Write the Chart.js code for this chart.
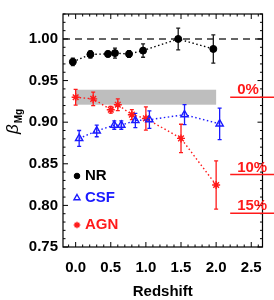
<!DOCTYPE html>
<html><head><meta charset="utf-8">
<script src="https://cdn.jsdelivr.net/npm/chart.js@4"></script>
<style>html,body{margin:0;padding:0;background:#fff}canvas{display:block}</style>
</head><body>
<canvas id="c" width="274" height="300" style="width:274px;height:300px"></canvas>
<script>
// ---- data ----
const xTicks = [0.0, 0.5, 1.0, 1.5, 2.0, 2.5];
const yTicks = [0.75, 0.80, 0.85, 0.90, 0.95, 1.00];

const nrZ  = [-0.04, 0.21, 0.46, 0.56, 0.76, 0.96, 1.46, 1.96];
const nrB  = [0.9725, 0.9815, 0.982, 0.983, 0.982, 0.986, 1.000, 0.988];
const nrE  = [0.0045, 0.0045, 0.0035, 0.006, 0.004, 0.008, 0.013, 0.017];

const csfZ = [0.05, 0.30, 0.55, 0.65, 0.85, 1.05, 1.55, 2.05];
const csfB = [0.8805, 0.8895, 0.8965, 0.8965, 0.902, 0.903, 0.909, 0.898];
const csfE = [0.0095, 0.007, 0.005, 0.005, 0.0085, 0.0105, 0.012, 0.019];

const agnZ = [0.0, 0.25, 0.5, 0.6, 0.8, 1.0, 1.5, 2.0];
const agnB = [0.930, 0.928, 0.915, 0.921, 0.909, 0.9045, 0.8805, 0.8245];
const agnE = [0.0095, 0.008, 0.004, 0.007, 0.006, 0.014, 0.017, 0.029];

const bandZ = [0.0, 2.0];
const bandB = [0.921, 0.939];
const unityB = [1.0];
const refB = [0.930, 0.837, 0.7905];
const refLabels = ['0%', '10%', '15%'];
const refStartZ = 2.2;
const legendNames = ['NR', 'CSF', 'AGN'];

const FONT = "'Liberation Sans', Arial, Helvetica, sans-serif";
const RED = '#ff1a1a', BLUE = '#1a1aff', BLACK = '#000000';

const pts = (xs, ys) => xs.map((x, i) => ({x, y: ys[i]}));

const deco = {
  id: 'deco',
  beforeDatasetsDraw(chart) {
    const {ctx, chartArea: a, scales: {x, y}} = chart;
    ctx.save();
    // grey band
    const bx0 = x.getPixelForValue(bandZ[0]), bx1 = x.getPixelForValue(bandZ[1]);
    const by0 = y.getPixelForValue(bandB[1]), by1 = y.getPixelForValue(bandB[0]);
    ctx.fillStyle = '#bebebe';
    ctx.fillRect(bx0, by0, bx1 - bx0, by1 - by0);
    // unity dashed line
    const uy = y.getPixelForValue(unityB[0]);
    ctx.strokeStyle = '#333';
    ctx.lineWidth = 1.5;
    ctx.setLineDash([7, 5]);
    ctx.beginPath(); ctx.moveTo(a.left, uy); ctx.lineTo(a.right, uy); ctx.stroke();
    ctx.setLineDash([]);
    // error bars
    chart.data.datasets.forEach((ds, di) => {
      const meta = chart.getDatasetMeta(di);
      ctx.strokeStyle = ds.errColor;
      ctx.lineWidth = 1.3;
      meta.data.forEach((pt, i) => {
        const v = ds.data[i].y, e = ds.err[i];
        const y0 = y.getPixelForValue(v - e), y1 = y.getPixelForValue(v + e);
        ctx.beginPath();
        ctx.moveTo(pt.x, y0); ctx.lineTo(pt.x, y1);
        ctx.moveTo(pt.x - 2, y0); ctx.lineTo(pt.x + 2, y0);
        ctx.moveTo(pt.x - 2, y1); ctx.lineTo(pt.x + 2, y1);
        ctx.stroke();
      });
    });
    ctx.restore();
  },
  afterDraw(chart) {
    const {ctx, chartArea: a, scales: {x, y}} = chart;
    ctx.save();
    // frame
    ctx.strokeStyle = '#000';
    ctx.lineWidth = 1.2;
    ctx.strokeRect(a.left, a.top, a.right - a.left, a.bottom - a.top);
    // ticks
    ctx.lineWidth = 1;
    ctx.beginPath();
    for (let k = -2; k <= 27; k++) {
      const v = k / 10;
      if (v < x.min || v > x.max) continue;
      const px = x.getPixelForValue(v);
      const L = (k % 5 === 0) ? 5 : 2.5;
      ctx.moveTo(px, a.bottom); ctx.lineTo(px, a.bottom - L);
      ctx.moveTo(px, a.top); ctx.lineTo(px, a.top + L);
    }
    for (let k = 75; k <= 103; k++) {
      const v = k / 100;
      if (v < y.min - 1e-9 || v > y.max + 1e-9) continue;
      const py = y.getPixelForValue(v);
      const L = (k % 5 === 0) ? 5 : 2.5;
      ctx.moveTo(a.left, py); ctx.lineTo(a.left + L, py);
      ctx.moveTo(a.right, py); ctx.lineTo(a.right - L, py);
    }
    ctx.stroke();
    // reference percentage lines
    ctx.strokeStyle = RED;
    ctx.fillStyle = RED;
    ctx.lineWidth = 1.5;
    ctx.font = 'bold 15px ' + FONT;
    ctx.textAlign = 'left';
    ctx.textBaseline = 'alphabetic';
    const rx0 = x.getPixelForValue(refStartZ);
    refB.forEach((b, i) => {
      const py = y.getPixelForValue(b);
      ctx.beginPath(); ctx.moveTo(rx0, py); ctx.lineTo(chart.width + 2, py); ctx.stroke();
      ctx.fillText(refLabels[i], rx0 + 7, py - 3);
    });
    // legend markers
    const lx = a.left + 14, ly = [176, 198, 225];
    chart.data.datasets.forEach((d, i) => {
      ctx.fillStyle = d.pointBackgroundColor;
      ctx.strokeStyle = d.pointBorderColor;
      ctx.lineWidth = d.pointBorderWidth;
      Chart.helpers.drawPoint(ctx, {
        pointStyle: d.pointStyle, radius: d.legendRadius, rotation: 0,
        borderWidth: d.pointBorderWidth
      }, lx, ly[i]);
    });
    // legend text
    const colors = [BLACK, BLUE, RED];
    ctx.font = 'bold 15px ' + FONT;
    ctx.textAlign = 'left';
    ctx.textBaseline = 'middle';
    legendNames.forEach((n, i) => {
      ctx.fillStyle = colors[i];
      ctx.fillText(n, lx + 8, ly[i]);
    });
    // axis titles
    ctx.fillStyle = '#000';
    ctx.textBaseline = 'alphabetic';
    ctx.textAlign = 'center';
    ctx.font = 'bold 15px ' + FONT;
    ctx.fillText('Redshift', (a.left + a.right) / 2, 296);
    ctx.save();
    ctx.translate(18, 122);
    ctx.rotate(-Math.PI / 2);
    ctx.textAlign = 'left';
    ctx.font = 'italic 17px ' + FONT;
    const wb = ctx.measureText('β').width;
    ctx.font = 'bold 10px ' + FONT;
    const wm = ctx.measureText('Mg').width;
    const start = -(wb + wm) / 2;
    ctx.font = 'italic 17px ' + FONT;
    ctx.fillText('β', start, 0);
    ctx.font = 'bold 10px ' + FONT;
    ctx.fillText('Mg', start + wb + 1, 4);
    ctx.restore();
    ctx.restore();
  }
};

new Chart(document.getElementById('c'), {
  type: 'scatter',
  data: {
    datasets: [
      {label: 'NR', data: pts(nrZ, nrB), err: nrE, errColor: '#1a1a1a',
       showLine: true, borderColor: BLACK, borderWidth: 1.4, borderDash: [1.5, 2.5],
       pointStyle: 'circle', pointRadius: 3.5, legendRadius: 2.8,
       pointBackgroundColor: BLACK, pointBorderColor: BLACK, pointBorderWidth: 1},
      {label: 'CSF', data: pts(csfZ, csfB), err: csfE, errColor: BLUE,
       showLine: true, borderColor: BLUE, borderWidth: 1.4, borderDash: [1.5, 2.5],
       pointStyle: 'triangle', pointRadius: 4.2, legendRadius: 3.5,
       pointBackgroundColor: 'rgba(255,255,255,0)', pointBorderColor: BLUE, pointBorderWidth: 1.4},
      {label: 'AGN', data: pts(agnZ, agnB), err: agnE, errColor: RED,
       showLine: true, borderColor: RED, borderWidth: 1.4, borderDash: [1.5, 2.5],
       pointStyle: 'star', pointRadius: 4, legendRadius: 3.3,
       pointBackgroundColor: RED, pointBorderColor: RED, pointBorderWidth: 1.4}
    ]
  },
  options: {
    responsive: false,
    animation: false,
    devicePixelRatio: 1,
    layout: {padding: {top: 2, right: 3, left: 0, bottom: 0}},
    plugins: {legend: {display: false}, tooltip: {enabled: false}},
    scales: {
      x: {
        type: 'linear', min: -0.18, max: 2.66,
        grid: {display: false, drawTicks: false}, border: {display: false},
        afterBuildTicks: s => { s.ticks = xTicks.map(v => ({value: v})); },
        afterFit: s => { s.height = 53; },
        ticks: {autoSkip: false, maxRotation: 0, padding: 12, color: '#000',
                font: {family: FONT, weight: 'bold', size: 15},
                callback: v => Number(v).toFixed(1)}
      },
      y: {
        type: 'linear', min: 0.75, max: 1.03,
        grid: {display: false, drawTicks: false}, border: {display: false},
        afterBuildTicks: s => { s.ticks = yTicks.map(v => ({value: v})); },
        afterFit: s => { s.width = 63; },
        ticks: {autoSkip: false, padding: 5, color: '#000',
                font: {family: FONT, weight: 'bold', size: 15},
                callback: v => Number(v).toFixed(2)}
      }
    }
  },
  plugins: [deco]
});
</script>
</body></html>
